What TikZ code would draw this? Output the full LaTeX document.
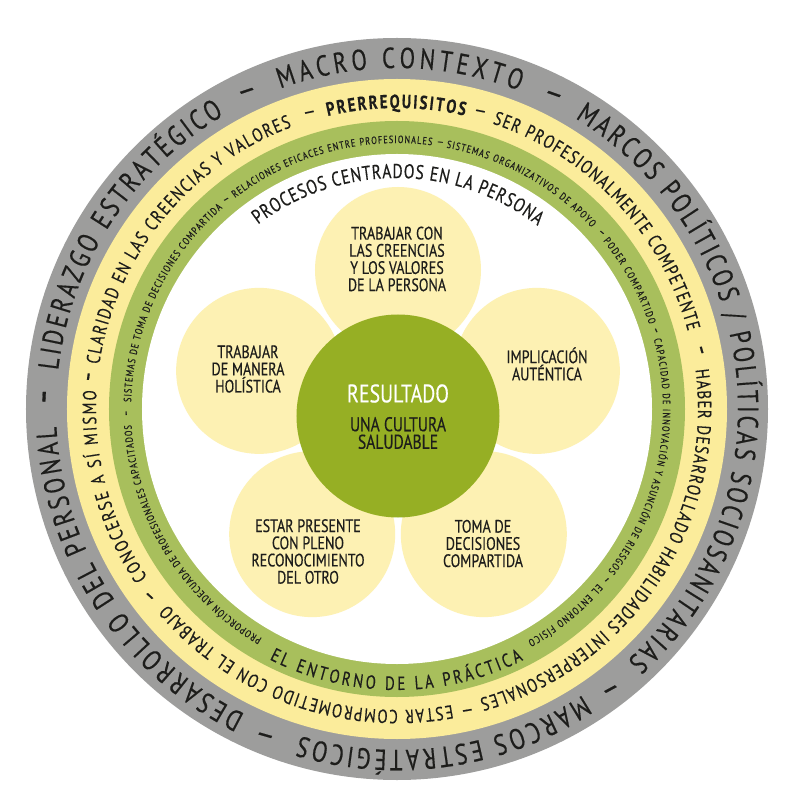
\documentclass[tikz,border=0pt]{standalone}
\usepackage{fontspec}
\setmainfont{PT Sans}[FakeStretch=0.78,FakeBold=0.4]
\usetikzlibrary{decorations.text}
\definecolor{ink}{HTML}{1D1D1B}
\definecolor{ringg}{HTML}{9D9D9C}
\definecolor{ringy}{HTML}{FBEC9B}
\definecolor{ringv}{HTML}{A8BF5C}
\definecolor{pyel}{HTML}{FDF1B3}
\definecolor{corec}{HTML}{96AF24}
\newcommand{\outf}{\fontsize{29}{29}\selectfont\color{ink}}
\newcommand{\yelf}{\fontsize{19}{19}\selectfont\color{ink}}
\newcommand{\grnf}{\fontsize{10.5}{10.5}\selectfont\color{ink}}
\newcommand{\pracf}{\fontsize{19}{19}\selectfont\color{ink}}
\newcommand{\procf}{\fontsize{20}{20}\selectfont\color{ink}}
\newcommand{\arctext}[5]{\path[decorate,decoration={text along path,text align={fit to path},text={|#4|#5}}] (#2:#1pt) arc[start angle=#2,end angle=#3,radius=#1pt];}
\tikzset{
  petal/.style={circle,fill=pyel,minimum size=166pt,inner sep=0pt},
  core/.style={circle,fill=corec,minimum size=203pt,inner sep=0pt},
  ptxt/.style={align=center,inner sep=0pt,text=ink,font=\fontsize{18}{17.2}\selectfont},
  rdash/.style={inner sep=0pt,text=ink,xscale=1.4},
}
\begin{document}
\begin{tikzpicture}[x=1pt,y=1pt]
\useasboundingbox (-397,-394) rectangle (394,409);
\fill[ringg] (0,0) circle (371pt);
\fill[ringy] (0,0) circle (330pt);
\fill[ringv] (0,0) circle (288pt);
\fill[white] (0,0) circle (255pt);
\begin{scope}[shift={(1,-7)}]
\foreach \a [count=\i] in {90,162,234,306,18} \node[petal] (p\i) at (\a:146pt) {};
\node[core] (res) at (0,0) {};
\end{scope}
\node[ptxt] (t1) at (0,150) {TRABAJAR CON\\LAS CREENCIAS\\Y LOS VALORES\\DE LA PERSONA};
\node[ptxt] (t2) at (-149,40) {TRABAJAR\\DE MANERA\\HOLÍSTICA};
\node[ptxt] (t3) at (150,45) {IMPLICACIÓN\\AUTÉNTICA};
\node[ptxt] (t4) at (-89,-142.5) {ESTAR PRESENTE\\CON PLENO\\RECONOCIMIENTO\\DEL OTRO};
\node[ptxt] (t5) at (86,-134.5) {TOMA DE\\DECISIONES\\COMPARTIDA};
\node[ptxt,text=white,font=\fontsize{25.5}{25.5}\selectfont] (r1) at (1,15.5) {RESULTADO};
\node[ptxt,font=\fontsize{20}{17.5}\selectfont] (r2) at (1,-24) {UNA CULTURA\\SALUDABLE};
\arctext{341}{110}{69}{\outf}{MACRO CONTEXTO}
\arctext{341}{58.5}{-47.5}{\outf}{MARCOS POLÍTICOS / POLÍTICAS SOCIOSANITARIAS}
\arctext{341}{-57}{-106.5}{\outf}{MARCOS ESTRATÉGICOS}
\arctext{341}{-116.5}{-177}{\outf}{DESARROLLO DEL PERSONAL}
\arctext{341}{173.5}{120.5}{\outf}{LIDERAZGO ESTRATÉGICO}
\foreach \a [count=\i] in {63.6,-52.8,-111.9,178,115.2} \node[rdash,font=\outf,rotate=\a-90] (od\i) at (\a:348pt) {–};
\arctext{301}{103.3}{77}{\yelf\bfseries}{PRERREQUISITOS}
\arctext{301}{71.5}{15}{\yelf}{SER PROFESIONALMENTE COMPETENTE}
\arctext{301}{7.5}{-74}{\yelf}{HABER DESARROLLADO HABILIDADES INTERPERSONALES}
\arctext{301}{-79.5}{-139.5}{\yelf}{ESTAR COMPROMETIDO CON EL TRABAJO}
\arctext{301}{-146}{-183.5}{\yelf}{CONOCERSE A SÍ MISMO}
\arctext{301}{171.5}{110.5}{\yelf}{CLARIDAD EN LAS CREENCIAS Y VALORES}
\foreach \a [count=\i] in {74.4,11,-76.9,-142.8,174,106.4} \node[rdash,font=\yelf,rotate=\a-90] (yd\i) at (\a:307pt) {–};
\arctext{266}{127.5}{82.5}{\grnf}{RELACIONES EFICACES ENTRE PROFESIONALES}
\arctext{266}{79.3}{43}{\grnf}{SISTEMAS ORGANIZATIVOS DE APOYO}
\arctext{266}{39.2}{18.5}{\grnf}{PODER COMPARTIDO}
\arctext{266}{15.2}{-37.5}{\grnf}{CAPACIDAD DE INNOVACIÓN Y ASUNCIÓN DE RIESGOS}
\arctext{266}{-41}{-60.6}{\grnf}{EL ENTORNO FÍSICO}
\arctext{266}{-120.5}{-176.5}{\grnf}{PROPORCIÓN ADECUADA DE PROFESIONALES CAPACITADOS}
\arctext{266}{178.5}{131}{\grnf}{SISTEMAS DE TOMA DE DECISIONES COMPARTIDA}
\foreach \a [count=\i] in {80.8,40.8,16.9,-39.2,-179.1,129.1} \node[rdash,font=\grnf,rotate=\a-90] (gd\i) at (\a:269pt) {–};
\arctext{281}{-117}{-63.3}{\pracf}{EL ENTORNO DE LA PRÁCTICA}
\arctext{231}{127}{52.5}{\procf}{PROCESOS CENTRADOS EN LA PERSONA}
\end{tikzpicture}
\end{document}
